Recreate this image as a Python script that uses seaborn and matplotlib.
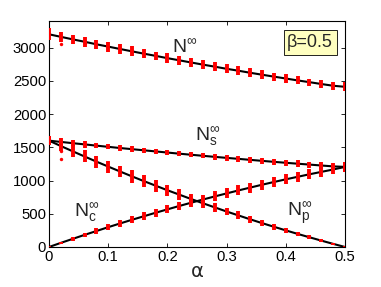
import numpy as np
import pandas as pd
import matplotlib
matplotlib.use("Agg")
import matplotlib.pyplot as plt
import seaborn as sns

alpha = [0.00, 0.02, 0.04, 0.06, 0.08, 0.10, 0.12, 0.14, 0.16, 0.18, 0.20, 0.22, 0.24,
         0.26, 0.28, 0.30, 0.32, 0.34, 0.36, 0.38, 0.40, 0.42, 0.44, 0.46, 0.48, 0.50]
N_tot = [3200, 3162, 3124, 3088, 3050, 3015, 2979, 2944, 2909, 2876, 2841, 2809, 2776,
         2744, 2713, 2681, 2652, 2621, 2592, 2563, 2535, 2506, 2480, 2452, 2426, 2410]
N_s = [1600, 1581, 1562, 1544, 1525, 1507, 1489, 1472, 1455, 1438, 1421, 1404, 1388,
       1372, 1356, 1341, 1326, 1311, 1296, 1281, 1267, 1253, 1240, 1226, 1213, 1205]
N_p = [1600, 1519, 1440, 1362, 1285, 1210, 1136, 1063, 992, 923, 854, 788, 722,
       658, 596, 534, 475, 416, 359, 304, 250, 197, 146, 96, 47, 0]
N_c = [0, 62, 122, 182, 240, 298, 354, 409, 462, 515, 566, 617, 666,
       714, 761, 806, 851, 894, 937, 978, 1018, 1056, 1094, 1130, 1166, 1205]

err_tot = [90, 80, 70, 75, 65, 75, 75, 75, 65, 65, 75, 65, 65,
           65, 65, 65, 65, 65, 65, 60, 65, 60, 55, 65, 60, 65]
err_s = [70, 60, 50, 50, 40, 40, 40, 40, 40, 40, 40, 40, 40,
         40, 40, 40, 45, 40, 45, 40, 45, 50, 45, 55, 55, 70]
err_p = [70, 80, 90, 90, 90, 90, 90, 95, 90, 90, 80, 80, 80,
         75, 70, 60, 60, 55, 50, 45, 40, 35, 30, 25, 15, 10]
err_c = [10, 20, 25, 35, 40, 45, 50, 55, 60, 60, 60, 65, 65,
         70, 75, 75, 75, 75, 75, 75, 75, 75, 75, 75, 70, 70]

out_alpha = [0.02, 0.02, 0.06, 0.02]
out_vals = [3060, 1320, 3070, 1450]

series_names = ["N", "Ns", "Np", "Nc"]

sns.set_style("ticks")
plt.rcParams["font.family"] = ["Liberation Sans", "DejaVu Sans"]
plt.rcParams["mathtext.fontset"] = "custom"
plt.rcParams["mathtext.rm"] = "Liberation Sans"
plt.rcParams["mathtext.it"] = "Liberation Sans:italic"

fig = plt.figure(figsize=(3.81, 2.87), dpi=100)
ax = fig.add_axes([0.1286, 0.1394, 0.7769, 0.7874])

rows = []
for name, vals in zip(series_names, [N_tot, N_s, N_p, N_c]):
    for a, v in zip(alpha, vals):
        rows.append({"alpha": a, "value": v, "series": name})
df = pd.DataFrame(rows)

sns.lineplot(data=df, x="alpha", y="value", units="series", estimator=None,
             color="black", linewidth=1.5, ax=ax, legend=False, zorder=2)

for vals, errs in zip([N_tot, N_s, N_p, N_c], [err_tot, err_s, err_p, err_c]):
    ax.errorbar(alpha, vals, yerr=errs, fmt="none", ecolor="red",
                elinewidth=2.8, capsize=0, zorder=3)
sns.scatterplot(x=out_alpha, y=out_vals, color="red", s=6, linewidth=0, ax=ax, zorder=3)

ax.set_xlim(0, 0.5)
ax.set_ylim(0, 3400)
ax.set_xticks([0, 0.1, 0.2, 0.3, 0.4, 0.5])
ax.set_xticklabels(["0", "0.1", "0.2", "0.3", "0.4", "0.5"])
ax.set_yticks([0, 500, 1000, 1500, 2000, 2500, 3000])
ax.tick_params(direction="in", top=True, right=True, labelsize=10.7, length=3,
               width=0.6, pad=2, colors="black")
for sp in ax.spines.values():
    sp.set_linewidth(0.8)
    sp.set_color("black")
ax.set_xlabel("α", fontsize=14, labelpad=-1, family="DejaVu Sans")
ax.set_ylabel("")

lab_kw = dict(fontsize=14, va="baseline", ha="left")
ax.text(0.208, 2928, r"N$^{\infty}$", **lab_kw)
ax.text(0.247, 1607, r"N$_{\rm s}^{\infty}$", **lab_kw)
ax.text(0.042, 465, r"N$_{\rm c}^{\infty}$", **lab_kw)
ax.text(0.402, 465, r"N$_{\rm p}^{\infty}$", **lab_kw)

ax.text(0.882, 0.905, "β=0.5", transform=ax.transAxes, fontsize=13,
        ha="center", va="center",
        bbox=dict(boxstyle="square,pad=0.2", facecolor="#ffffc0", edgecolor="black",
                  linewidth=0.6))

fig.savefig("out.png", dpi=100)
